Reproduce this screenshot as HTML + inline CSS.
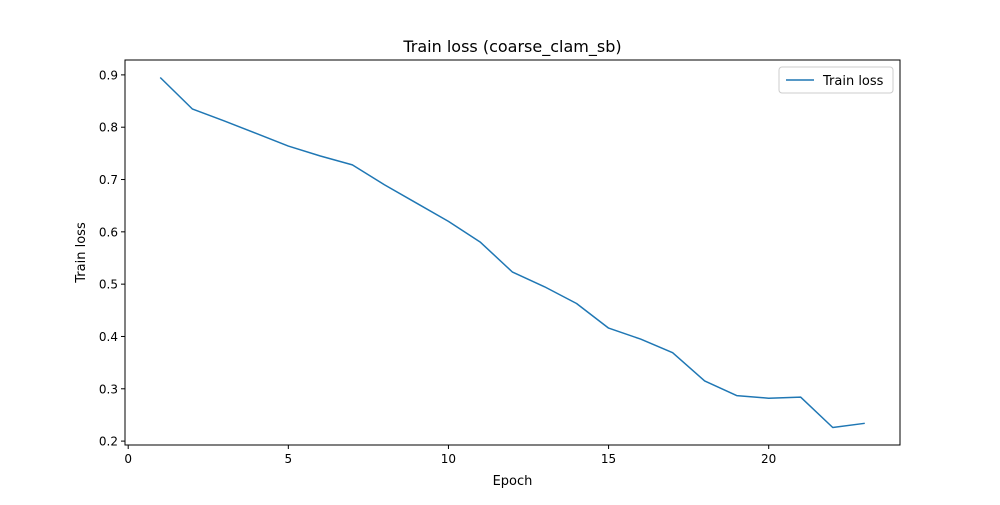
<!DOCTYPE html>
<html><head><meta charset="utf-8"><style>
body{margin:0;background:#fff;font-family:"Liberation Sans","DejaVu Sans",sans-serif;}
svg text{font-family:"DejaVu Sans","Liberation Sans",sans-serif;}
</style></head><body>
<svg id="chart" width="1000" height="500" xmlns="http://www.w3.org/2000/svg">
<rect width="1000" height="500" fill="#fff"/>
<text x="512.5" y="52" text-anchor="middle" font-size="16">Train loss (coarse_clam_sb)</text>
<g id="marks"></g>
<rect x="125" y="60" width="775" height="385" fill="none" stroke="#000" stroke-width="1"/>
<text x="512.5" y="485" text-anchor="middle" font-size="13">Epoch</text>
<text transform="translate(85,252.5) rotate(-90)" text-anchor="middle" font-size="13">Train loss</text>
<g>
<rect x="779" y="67" width="114" height="26" fill="#fff" stroke="#ccc" rx="3"/>
<line x1="786" y1="80" x2="814" y2="80" stroke="#1f77b4" stroke-width="1.5"/>
<text x="823" y="85" font-size="13">Train loss</text>
</g>
</svg>
<script>
const epochs=[1,2,3,4,5,6,7,8,9,10,11,12,13,14,15,16,17,18,19,20,21,22,23];
const lossValues=[0.895,0.835,0.812,0.788,0.764,0.745,0.728,0.690,0.655,0.620,0.580,0.523,0.495,0.463,0.416,0.395,0.369,0.315,0.287,0.282,0.284,0.226,0.234];
const xTicks=[0,5,10,15,20];
const yTicks=[0.2,0.3,0.4,0.5,0.6,0.7,0.8,0.9];
const L=125,R=900,T=60,B=445;
const xmin=Math.min(...epochs),xmax=Math.max(...epochs),xm=(xmax-xmin)*0.05;
const ymin=Math.min(...lossValues),ymax=Math.max(...lossValues),ym=(ymax-ymin)*0.05;
const X=v=>L+(v-(xmin-xm))/((xmax+xm)-(xmin-xm))*(R-L);
const Y=v=>B-(v-(ymin-ym))/((ymax+ym)-(ymin-ym))*(B-T);
const NS="http://www.w3.org/2000/svg",g=document.getElementById('marks');
function mk(t,a){const e=document.createElementNS(NS,t);for(const k in a)e.setAttribute(k,a[k]);g.appendChild(e);return e;}
xTicks.forEach(v=>{
 const l=mk('line',{x1:X(v),x2:X(v),y1:B,y2:B+4,stroke:'#000'});
 
 
 const t=mk('text',{x:X(v),y:B+18,'text-anchor':'middle','font-size':12});t.textContent=v;
 
 
});
yTicks.forEach(v=>{
 const l=mk('line',{x1:L-4,x2:L,y1:Y(v),y2:Y(v),stroke:'#000'});
 
 
 const t=mk('text',{x:L-7,y:Y(v)+4.5,'text-anchor':'end','font-size':12});t.textContent=v.toFixed(1);
 
 
});
const p=mk('polyline',{points:epochs.map((e,i)=>X(e)+','+Y(lossValues[i])).join(' '),fill:'none',stroke:'#1f77b4','stroke-width':1.5,'stroke-linejoin':'round'});


</script>
</body></html>
